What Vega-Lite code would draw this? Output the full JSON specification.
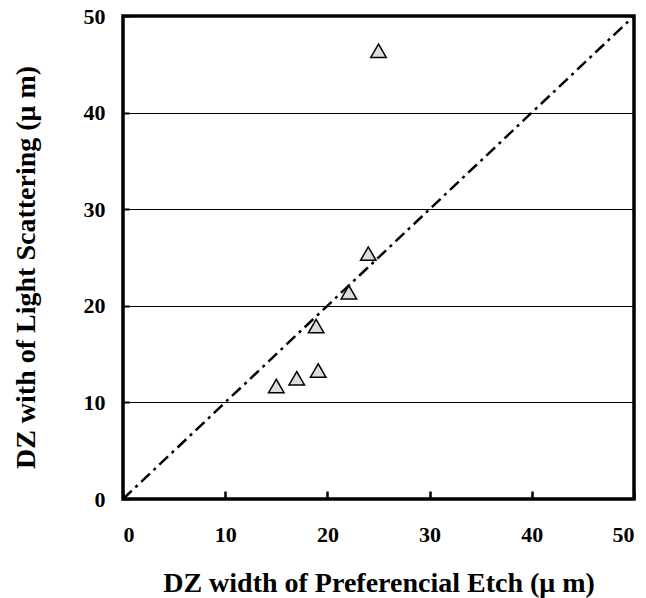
{
  "$schema": "https://vega.github.io/schema/vega-lite/v6.json",
  "width": 511,
  "height": 483,
  "autosize": {"type": "none"},
  "padding": {"left": 123, "top": 16, "right": 12, "bottom": 99},
  "background": "white",
  "config": {
    "view": {"stroke": "black", "strokeWidth": 3.5},
    "font": "Liberation Serif"
  },
  "datasets": {
    "pts": [
      {"etch": 25, "scatter": 46.4},
      {"etch": 24, "scatter": 25.4},
      {"etch": 22.1, "scatter": 21.4},
      {"etch": 18.9, "scatter": 17.9},
      {"etch": 19.1, "scatter": 13.3},
      {"etch": 17.0, "scatter": 12.5},
      {"etch": 15.0, "scatter": 11.7}
    ],
    "ref": [
      {"etch": 0, "scatter": 0},
      {"etch": 50, "scatter": 50}
    ]
  },
  "layer": [
    {
      "data": {"name": "ref"},
      "mark": {"type": "line", "color": "black", "strokeWidth": 2.5, "strokeDash": [12, 5, 3, 5], "clip": true},
      "encoding": {
        "x": {"field": "etch", "type": "quantitative", "scale": {"domain": [0, 50], "nice": false},
          "axis": {"values": [0, 10, 20, 30, 40, 50], "grid": false, "title": "DZ width of Preferencial Etch (μ m)",
            "labelFont": "Liberation Serif", "labelFontWeight": "bold", "labelFontSize": 22, "labelColor": "black", "labelPadding": 33,
            "tickSize": -8, "tickWidth": 2.5, "tickColor": "black", "domain": false,
            "titleFont": "Liberation Serif", "titleFontWeight": "bold", "titleFontSize": 28, "titleColor": "black",
            "titleY": 92, "titleBaseline": "alphabetic"}},
        "y": {"field": "scatter", "type": "quantitative", "scale": {"domain": [0, 50], "nice": false},
          "axis": {"values": [0, 10, 20, 30, 40, 50], "grid": true, "gridColor": "black", "gridWidth": 1, "gridOpacity": 1,
            "title": "DZ with of Light Scattering (μ m)",
            "labelFont": "Liberation Serif", "labelFontWeight": "bold", "labelFontSize": 22, "labelColor": "black", "labelPadding": 24,
            "tickSize": -6, "tickWidth": 2, "tickColor": "black", "domain": false,
            "titleFont": "Liberation Serif", "titleFontWeight": "bold", "titleFontSize": 28, "titleColor": "black",
            "titleX": -89, "titleY": 251, "titleBaseline": "alphabetic", "titleAlign": "center", "titleAngle": -90}}
      }
    },
    {
      "data": {"name": "pts"},
      "mark": {"type": "point", "shape": "triangle-up", "filled": true, "fill": "#dcdcdc", "stroke": "black", "strokeWidth": 1.5, "size": 240, "opacity": 1},
      "encoding": {
        "x": {"field": "etch", "type": "quantitative"},
        "y": {"field": "scatter", "type": "quantitative"}
      }
    }
  ]
}
